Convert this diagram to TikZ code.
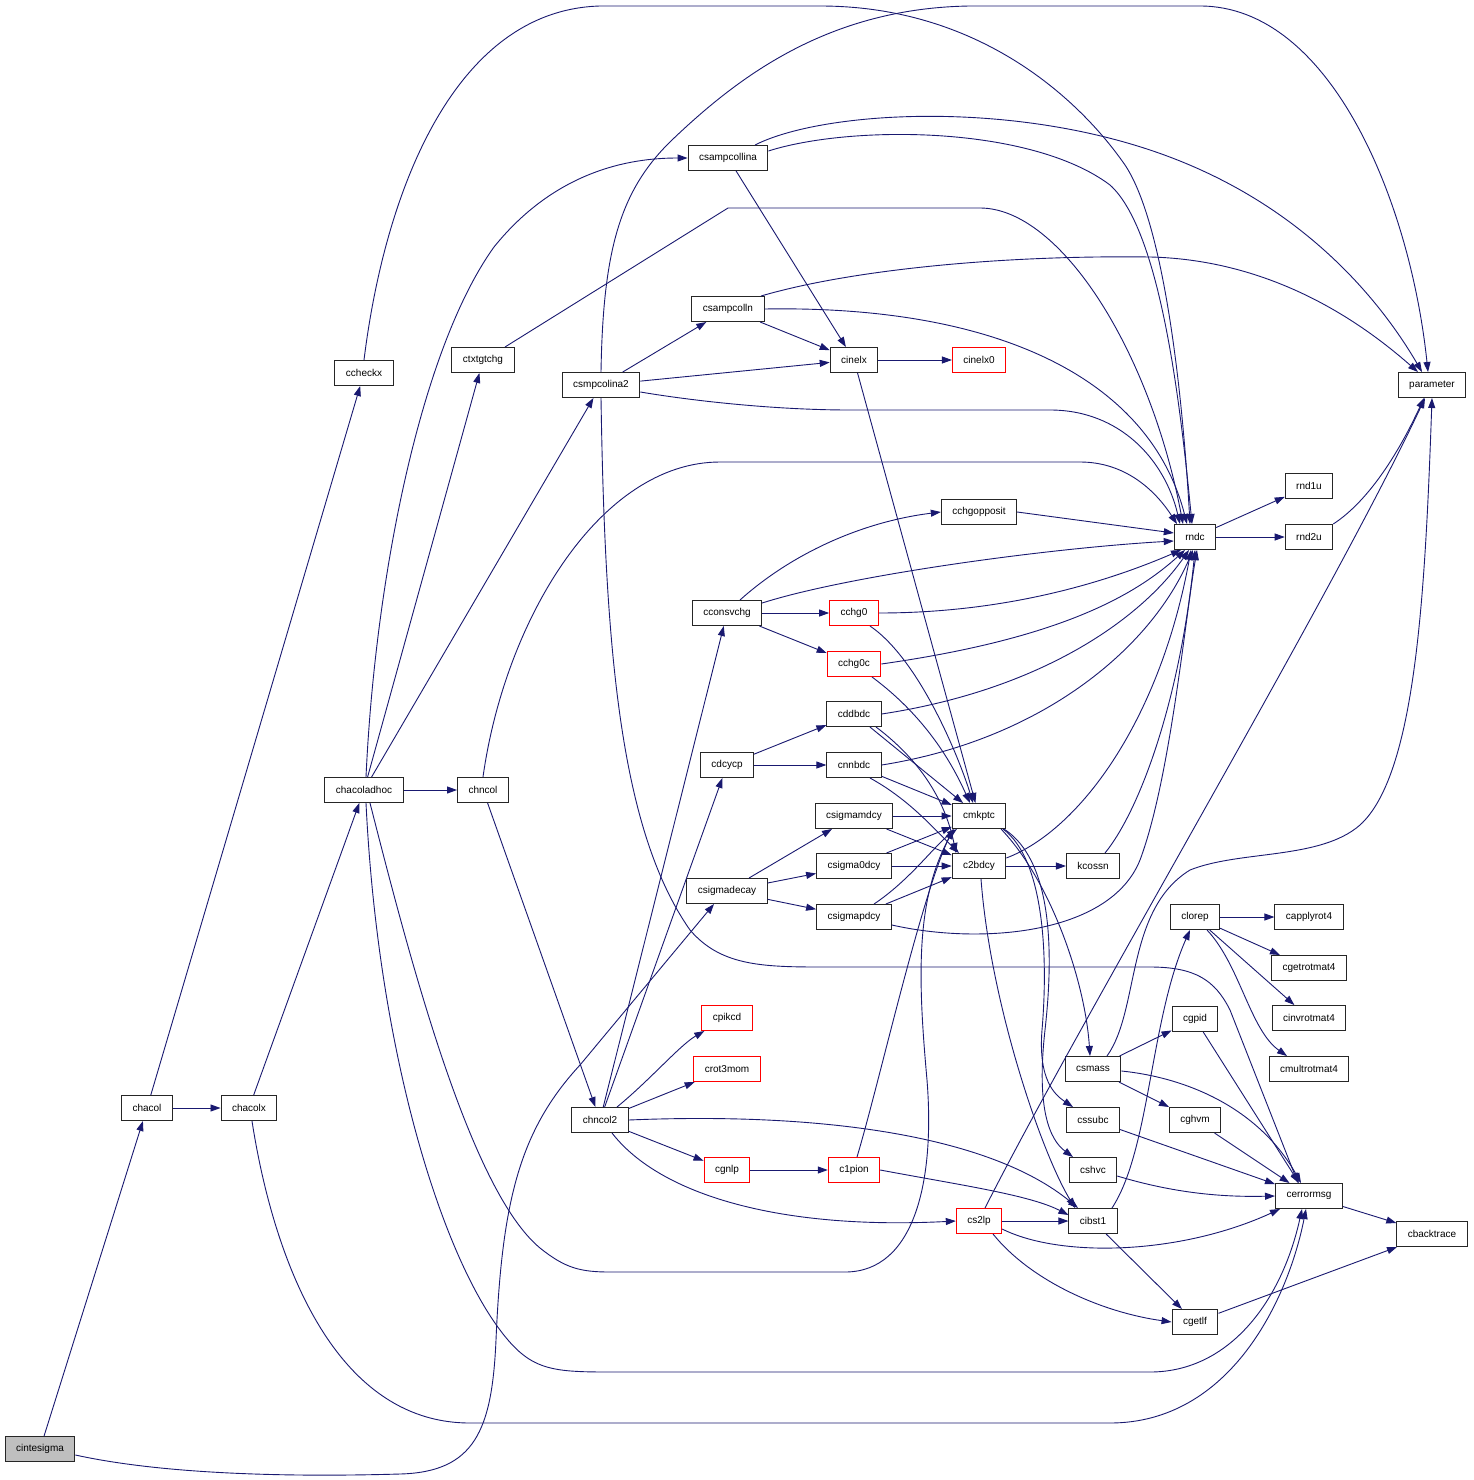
\documentclass[tikz,border=0pt]{standalone}
\usepackage{fontspec}
\setmainfont{Liberation Sans}
\usetikzlibrary{arrows.meta}
\definecolor{mblue}{RGB}{25,25,112}
\begin{document}
\begin{tikzpicture}[x=1pt,y=-1pt,
  fn/.style={draw=black!85,line width=1pt,fill=white,minimum height=25pt,inner xsep=11pt,inner ysep=0pt,font=\fontsize{10}{12}\selectfont},
  rn/.style={fn,draw=red},
  gn/.style={fn,fill=black!25},
  ar/.style={draw=mblue,line width=0.9pt,-{Triangle[length=10pt,width=7pt]}}]
\useasboundingbox[fill=white] (0,0) rectangle (1473,1480);
% nodes
\node[gn] (cintesigma) at (40,1449) {cintesigma};
\node[fn] (chacol) at (147,1108) {chacol};
\node[fn] (chacolx) at (249,1108) {chacolx};
\node[fn] (ccheckx) at (364,373) {ccheckx};
\node[fn] (chacoladhoc) at (364,790) {chacoladhoc};
\node[fn] (chncol) at (483,790) {chncol};
\node[fn] (ctxtgtchg) at (483,360) {ctxtgtchg};
\node[fn] (csmpcolina2) at (601,385) {csmpcolina2};
\node[fn] (csampcollina) at (728,158) {csampcollina};
\node[fn] (csampcolln) at (728,309) {csampcolln};
\node[fn] (cinelx) at (854,360) {cinelx};
\node[rn] (cinelx0) at (979,360) {cinelx0};
\node[fn] (parameter) at (1432,385) {parameter};
\node[fn] (rndc) at (1195,537) {rndc};
\node[fn] (rnd1u) at (1309,486) {rnd1u};
\node[fn] (rnd2u) at (1309,537) {rnd2u};
\node[fn] (cchgopposit) at (979,512) {cchgopposit};
\node[fn] (cconsvchg) at (727,613) {cconsvchg};
\node[rn] (cchg0) at (854,613) {cchg0};
\node[rn] (cchg0c) at (854,664) {cchg0c};
\node[fn] (cddbdc) at (854,714) {cddbdc};
\node[fn] (cdcycp) at (727,765) {cdcycp};
\node[fn] (cnnbdc) at (854,765) {cnnbdc};
\node[fn] (csigmamdcy) at (854,816) {csigmamdcy};
\node[fn] (cmkptc) at (979,816) {cmkptc};
\node[fn] (csigma0dcy) at (854,866) {csigma0dcy};
\node[fn] (c2bdcy) at (979,866) {c2bdcy};
\node[fn] (kcossn) at (1093,866) {kcossn};
\node[fn] (csigmadecay) at (727,891) {csigmadecay};
\node[fn] (csigmapdcy) at (854,917) {csigmapdcy};
\node[fn] (clorep) at (1195,917) {clorep};
\node[fn] (capplyrot4) at (1309,917) {capplyrot4};
\node[fn] (cgetrotmat4) at (1309,968) {cgetrotmat4};
\node[fn] (cinvrotmat4) at (1309,1018) {cinvrotmat4};
\node[fn] (cmultrotmat4) at (1309,1069) {cmultrotmat4};
\node[rn] (cpikcd) at (727,1018) {cpikcd};
\node[rn] (crot3mom) at (727,1069) {crot3mom};
\node[fn] (chncol2) at (600,1120) {chncol2};
\node[fn] (cgpid) at (1195,1019) {cgpid};
\node[fn] (csmass) at (1093,1069) {csmass};
\node[fn] (cghvm) at (1195,1120) {cghvm};
\node[fn] (cssubc) at (1093,1120) {cssubc};
\node[rn] (cgnlp) at (727,1170) {cgnlp};
\node[rn] (c1pion) at (854,1170) {c1pion};
\node[fn] (cshvc) at (1093,1170) {cshvc};
\node[fn] (cerrormsg) at (1309,1196) {cerrormsg};
\node[rn] (cs2lp) at (979,1221) {cs2lp};
\node[fn] (cibst1) at (1093,1221) {cibst1};
\node[fn] (cbacktrace) at (1432,1234) {cbacktrace};
\node[fn] (cgetlf) at (1195,1322) {cgetlf};
% edges
\draw[ar] (cintesigma) -- (chacol);
\draw[ar] ([yshift=-6pt]cintesigma.east) .. controls (180,1478) and (330,1476) .. (400,1474) .. controls (475,1472) and (492,1430) .. (496,1340) .. controls (502,1200) and (520,1130) .. (580,1065) -- ([xshift=-13pt]csigmadecay.south);
\draw[ar] (chacol) -- (ccheckx);
\draw[ar] (chacol) -- (chacolx);
\draw[ar] (chacolx) -- (chacoladhoc);
\draw[ar] ([xshift=3pt]chacolx.south) .. controls (272,1250) and (330,1423) .. (470,1423) -- (1110,1423) .. controls (1230,1423) and (1288,1300) .. ([xshift=-3pt]cerrormsg.south);
\draw[ar] (chacoladhoc) -- (ctxtgtchg);
\draw[ar] (chacoladhoc) -- (csmpcolina2);
\draw[ar] ([xshift=2pt]chacoladhoc.north) .. controls (375,580) and (420,350) .. (494,247) .. controls (560,165) and (640,158) .. (csampcollina.west);
\draw[ar] (chacoladhoc) -- (chncol);
\draw[ar] ([xshift=6pt]chacoladhoc.south) .. controls (410,960) and (470,1190) .. (540,1248) .. controls (565,1268) and (580,1272) .. (610,1272) -- (845,1272) .. controls (915,1272) and (935,1180) .. (927,1080) .. controls (918,980) and (915,900) .. ([xshift=-25pt]cmkptc.south);
\draw[ar] ([xshift=2pt]chacoladhoc.south) .. controls (378,1050) and (440,1250) .. (500,1330) .. controls (530,1370) and (550,1372) .. (610,1372) -- (1150,1372) .. controls (1230,1372) and (1282,1300) .. ([xshift=-7pt]cerrormsg.south);
\draw[ar] (ccheckx.north) .. controls (385,190) and (455,10) .. (600,6) -- (820,6) .. controls (980,6) and (1080,100) .. (1125,165) .. controls (1165,225) and (1183,400) .. ([xshift=-5pt]rndc.north);
\draw[ar] (chncol) -- (chncol2);
\draw[ar] (chncol.north) .. controls (505,620) and (600,462) .. (720,462) -- (1080,462) .. controls (1125,462) and (1155,490) .. ([xshift=-18pt]rndc.north);
\draw[ar] ([xshift=22pt]ctxtgtchg.north) -- (728,208) -- (980,208) .. controls (1060,208) and (1150,350) .. ([xshift=-12pt]rndc.north);
\draw[ar] (csmpcolina2) -- (csampcolln);
\draw[ar] (csmpcolina2) -- (cinelx);
\draw[ar] ([yshift=-7pt]csmpcolina2.east) .. controls (700,402) and (780,410) .. (850,410) -- (1050,410) .. controls (1120,410) and (1165,460) .. ([xshift=-15pt]rndc.north);
\draw[ar] (csmpcolina2.north) .. controls (603,250) and (620,190) .. (672,140) .. controls (740,75) and (830,8) .. (970,6) -- (1200,6) .. controls (1330,6) and (1410,200) .. ([xshift=-4pt]parameter.north);
\draw[ar] (csmpcolina2.south) .. controls (605,650) and (620,830) .. (690,930) .. controls (720,965) and (760,967) .. (820,967) -- (1150,967) .. controls (1195,967) and (1215,980) .. (1230,1010) -- ([xshift=-11pt]cerrormsg.north);
\draw[ar] (csampcollina) -- (cinelx);
\draw[ar] ([xshift=27pt]csampcollina.north) .. controls (820,112) and (1000,100) .. (1150,150) .. controls (1300,200) and (1380,300) .. ([xshift=-10pt]parameter.north);
\draw[ar] ([yshift=7pt]csampcollina.east) .. controls (850,125) and (1030,125) .. (1110,185) .. controls (1160,230) and (1180,400) .. ([xshift=-3pt]rndc.north);
\draw[ar] (csampcolln) -- (cinelx);
\draw[ar] ([xshift=33pt]csampcolln.north) .. controls (850,270) and (1000,255) .. (1150,257) .. controls (1280,260) and (1370,330) .. ([xshift=-14pt]parameter.north);
\draw[ar] (csampcolln.east) .. controls (1000,305) and (1150,380) .. ([xshift=-8pt]rndc.north);
\draw[ar] (cinelx) -- (cinelx0);
\draw[ar] (cinelx) -- (cmkptc);
\draw[ar] ([xshift=13pt]cconsvchg.north) .. controls (790,555) and (860,522) .. (cchgopposit.west);
\draw[ar] ([yshift=10pt]cconsvchg.east) .. controls (850,575) and (1050,548) .. ([yshift=-4pt]rndc.west);
\draw[ar] (cconsvchg) -- (cchg0);
\draw[ar] (cconsvchg) -- (cchg0c);
\draw[ar] (cchgopposit.east) -- ([yshift=4pt]rndc.west);
\draw[ar] (cchg0.east) .. controls (1000,613) and (1100,585) .. ([xshift=-14pt]rndc.south);
\draw[ar] ([xshift=16pt]cchg0.south) .. controls (920,660) and (960,760) .. ([xshift=-6pt]cmkptc.north);
\draw[ar] (cchg0c.east) .. controls (1050,640) and (1130,600) .. ([xshift=-10pt]rndc.south);
\draw[ar] ([xshift=18pt]cchg0c.south) .. controls (930,720) and (955,770) .. ([xshift=-9pt]cmkptc.north);
\draw[ar] (cddbdc.east) .. controls (1040,690) and (1140,620) .. ([xshift=-6pt]rndc.south);
\draw[ar] (cddbdc) -- (cmkptc);
\draw[ar] ([xshift=22pt]cddbdc.south) .. controls (920,760) and (945,800) .. ([xshift=-23pt]c2bdcy.north);
\draw[ar] (cdcycp) -- (cddbdc);
\draw[ar] (cdcycp) -- (cnnbdc);
\draw[ar] (cnnbdc.east) .. controls (1040,740) and (1150,650) .. ([xshift=-2pt]rndc.south);
\draw[ar] (cnnbdc) -- (cmkptc);
\draw[ar] ([xshift=16pt]cnnbdc.south) .. controls (910,800) and (935,830) .. ([xshift=-20pt]c2bdcy.north);
\draw[ar] (csigmamdcy) -- (cmkptc);
\draw[ar] (csigmamdcy) -- (c2bdcy);
\draw[ar] (csigma0dcy) -- (cmkptc);
\draw[ar] (csigma0dcy) -- (c2bdcy);
\draw[ar] (csigmadecay) -- (csigmamdcy);
\draw[ar] (csigmadecay) -- (csigma0dcy);
\draw[ar] (csigmadecay) -- (csigmapdcy);
\draw[ar] ([xshift=20pt]csigmapdcy.north) .. controls (910,880) and (935,845) .. ([xshift=-22pt]cmkptc.south);
\draw[ar] (csigmapdcy) -- (c2bdcy);
\draw[ar] ([yshift=-8pt]csigmapdcy.east) .. controls (980,945) and (1110,935) .. (1140,860) .. controls (1170,780) and (1185,620) .. ([xshift=2pt]rndc.south);
\draw[ar] ([yshift=8pt]c2bdcy.east) .. controls (1080,830) and (1160,720) .. ([xshift=-4pt]rndc.south);
\draw[ar] (c2bdcy) -- (kcossn);
\draw[ar] ([xshift=12pt]kcossn.north) .. controls (1140,810) and (1180,700) .. (rndc.south);
\draw[ar] ([xshift=2pt]c2bdcy.south) .. controls (990,1000) and (1040,1150) .. ([xshift=-18pt]cibst1.north);
\draw[ar] ([xshift=22pt]cmkptc.south) .. controls (1050,880) and (1085,980) .. ([xshift=-3pt]csmass.north);
\draw[ar] ([xshift=24pt]cmkptc.south) .. controls (1045,860) and (1048,960) .. (1042,1030) .. controls (1038,1080) and (1055,1095) .. ([xshift=-20pt]cssubc.north);
\draw[ar] ([xshift=25pt]cmkptc.south) .. controls (1052,860) and (1054,950) .. (1045,1030) .. controls (1036,1110) and (1050,1140) .. ([xshift=-20pt]cshvc.north);
\draw[ar] (rndc) -- (rnd1u);
\draw[ar] (rndc) -- (rnd2u);
\draw[ar] (rnd2u.north east) .. controls (1370,500) and (1400,450) .. ([xshift=-8pt]parameter.south);
\draw[ar] (chncol2) -- (cconsvchg);
\draw[ar] (chncol2) -- (cdcycp);
\draw[ar] ([xshift=17pt]chncol2.north) .. controls (650,1080) and (680,1045) .. ([xshift=3pt]cpikcd.south west);
\draw[ar] (chncol2) -- (crot3mom);
\draw[ar] (chncol2) -- (cgnlp);
\draw[ar] (chncol2.east) .. controls (820,1112) and (990,1135) .. ([xshift=-15pt]cibst1.north);
\draw[ar] ([xshift=12pt]chncol2.south) .. controls (660,1195) and (780,1230) .. (cs2lp.west);
\draw[ar] (cgnlp) -- (c1pion);
\draw[ar] ([xshift=3pt]c1pion.north) .. controls (880,1080) and (920,900) .. ([xshift=-26pt]cmkptc.south);
\draw[ar] (c1pion.east) .. controls (960,1185) and (1030,1195) .. ([yshift=6pt]cibst1.west);
\draw[ar] (cs2lp) -- (cibst1);
\draw[ar] ([yshift=-8pt]cs2lp.east) .. controls (1060,1258) and (1180,1255) .. ([xshift=5pt]cerrormsg.south west);
\draw[ar] ([xshift=14pt]cs2lp.south) .. controls (1030,1280) and (1100,1312) .. (cgetlf.west);
\draw[ar] ([xshift=6pt]cs2lp.north) .. controls (1080,1020) and (1330,600) .. ([xshift=-7pt]parameter.south);
\draw[ar] ([xshift=19pt]cibst1.north) .. controls (1150,1150) and (1150,1020) .. ([xshift=-5pt]clorep.south);
\draw[ar] (cibst1) -- (cgetlf);
\draw[ar] (clorep) -- (capplyrot4);
\draw[ar] (clorep) -- (cgetrotmat4);
\draw[ar] (clorep) -- (cinvrotmat4);
\draw[ar] ([xshift=12pt]clorep.south) .. controls (1240,965) and (1250,1030) .. ([xshift=-22pt]cmultrotmat4.north);
\draw[ar] (csmass) -- (cgpid);
\draw[ar] (csmass) -- (cghvm);
\draw[ar] ([yshift=-2pt]csmass.east) .. controls (1190,1078) and (1260,1110) .. ([xshift=-8pt]cerrormsg.north);
\draw[ar] ([xshift=14pt]csmass.north) .. controls (1140,1010) and (1125,910) .. (1190,870) .. controls (1240,850) and (1320,860) .. (1360,825) .. controls (1415,775) and (1425,600) .. (parameter.south);
\draw[ar] (cgpid) -- ([xshift=-10pt]cerrormsg.north);
\draw[ar] (cghvm) -- (cerrormsg);
\draw[ar] (cssubc) -- (cerrormsg);
\draw[ar] ([yshift=-6pt]cshvc.east) .. controls (1180,1195) and (1230,1197) .. (cerrormsg.west);
\draw[ar] (cerrormsg) -- (cbacktrace);
\draw[ar] (cgetlf) -- (cbacktrace);
\end{tikzpicture}
\end{document}
